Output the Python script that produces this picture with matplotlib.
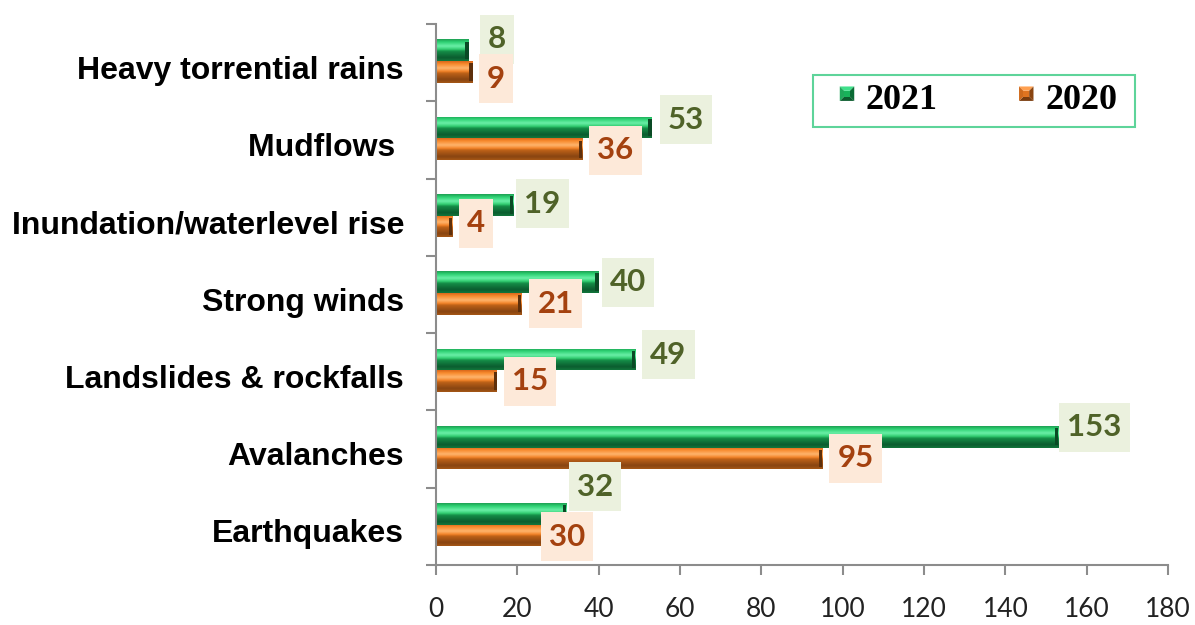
import numpy as np
import matplotlib
matplotlib.use("Agg")
import matplotlib.pyplot as plt
import matplotlib.transforms as mtransforms
from matplotlib.colors import LinearSegmentedColormap
from matplotlib.patches import Polygon, Patch, Rectangle
from matplotlib.path import Path
from matplotlib.legend_handler import HandlerBase

# ---------------- data ----------------
categories = ["Heavy torrential rains", "Mudflows ", "Inundation/waterlevel rise",
              "Strong winds", "Landslides & rockfalls", "Avalanches", "Earthquakes"]
values_2021 = [8, 53, 19, 40, 49, 153, 32]
values_2020 = [9, 36, 4, 21, 15, 95, 30]
series_names = ["2021", "2020"]
x_ticks = [0, 20, 40, 60, 80, 100, 120, 140, 160, 180]

# label nudges (pixels: dx from bar end to box edge, dy downward) - layout only
nudge_2021 = [(11.5, -11), (8, -8), (3, -1), (3, 0), (7, -4.5), (1, -9.5), (3, -27)]
nudge_2020 = [(6.5, 7), (7, 1), (7, -3), (8, 0), (7, 0), (7, 0), (-17, 1)]

# ---------------- style ----------------
GREEN_STOPS = [(0.0, '#1E9E52'), (0.12, '#2BD071'), (0.32, '#6CF0A8'), (0.47, '#2FCB6E'),
               (0.55, '#158E48'), (0.85, '#0B5C2F'), (1.0, '#12763C')]
ORANGE_STOPS = [(0.0, '#D9661A'), (0.12, '#F88A2C'), (0.32, '#FFB56E'), (0.47, '#F28226'),
                (0.55, '#BD6118'), (0.85, '#874411'), (1.0, '#A65716')]
green_cmap = LinearSegmentedColormap.from_list("g", GREEN_STOPS)
orange_cmap = LinearSegmentedColormap.from_list("o", ORANGE_STOPS)

GREEN_TXT, GREEN_BG = '#4F6228', '#EBF1DE'
ORANGE_TXT, ORANGE_BG = '#A4410F', '#FDE9D9'
AXIS_GRAY = '#8C8C8C'

fig = plt.figure(figsize=(11.95, 6.25), dpi=100)
ax = fig.add_axes([436 / 1195, 1 - 565 / 625, (1168 - 436) / 1195, (565 - 24) / 625])

y = np.arange(len(categories))
h = 0.28
off_2021, off_2020 = -0.16, 0.12

grad = np.linspace(0, 1, 64).reshape(-1, 1)


def shaded_bars(vals, offs, cmap, end_color):
    bars = ax.barh(y + offs, vals, height=h, color='none', edgecolor='none', zorder=2)
    for b in bars:
        x0, y0 = b.get_x(), b.get_y()
        w, hh = b.get_width(), b.get_height()
        im = ax.imshow(grad, cmap=cmap, aspect='auto', interpolation='bicubic',
                       extent=[x0, x0 + w, y0 + hh, y0], zorder=2)
        im.set_clip_path(b)
    # dark bevel at bar end
    ax.barh(y + offs, [0.8] * len(vals), left=[v - 0.8 for v in vals], height=h * 0.8,
            color=end_color, zorder=3)
    return bars


shaded_bars(values_2021, off_2021, green_cmap, '#0A4A25')
shaded_bars(values_2020, off_2020, orange_cmap, '#5E2F0B')


# ---------------- labels ----------------
def label_box(padx, pady):
    def box(x0, y0, width, height, mutation_size):
        x0 -= padx
        y0 -= pady
        w = width + 2 * padx
        hh = height + 2 * pady
        return Path([(x0, y0), (x0 + w, y0), (x0 + w, y0 + hh), (x0, y0 + hh), (x0, y0)],
                    closed=True)
    return box


LABEL_FS = 22.5
PADX_PX, PADY_PX = 8.0, 10.5
for vals, offs, nudges, tc, bg in [(values_2021, off_2021, nudge_2021, GREEN_TXT, GREEN_BG),
                                   (values_2020, off_2020, nudge_2020, ORANGE_TXT, ORANGE_BG)]:
    for i, v in enumerate(vals):
        dx, dy = nudges[i]
        ax.annotate(str(v), xy=(v, y[i] + offs), xycoords='data',
                    xytext=((dx + PADX_PX) * 0.72, -dy * 0.72), textcoords='offset points',
                    ha='left', va='center', fontsize=LABEL_FS, fontweight='bold',
                    family='Lato', color=tc, zorder=5,
                    bbox=dict(boxstyle=label_box(PADX_PX, PADY_PX), fc=bg, ec='none'))

# ---------------- axes ----------------
ax.set_xlim(0, 180)
ax.set_ylim(len(categories) - 0.5, -0.5)
ax.set_xticks(x_ticks)
ax.set_xticklabels([str(t) for t in x_ticks], family='Lato', fontsize=19, color='#222222')
ax.set_yticks(y)
ax.set_yticklabels(categories, family='Liberation Sans', fontsize=23, fontweight='bold')
ax.set_yticks(np.arange(-0.5, len(categories), 1.0), minor=True)
ax.tick_params(axis='y', which='major', length=0, pad=23)
ax.tick_params(axis='y', which='minor', length=7, width=1.5, color=AXIS_GRAY)
ax.tick_params(axis='x', which='major', length=7, width=1.5, color=AXIS_GRAY, pad=16)
for s in ['top', 'right']:
    ax.spines[s].set_visible(False)
for s in ['left', 'bottom']:
    ax.spines[s].set_color(AXIS_GRAY)
    ax.spines[s].set_linewidth(1.5)

shift_down = mtransforms.ScaledTranslation(0, -0.045, fig.dpi_scale_trans)
for lab in ax.get_yticklabels():
    lab.set_transform(lab.get_transform() + shift_down)


# ---------------- legend ----------------
class PyramidHandler(HandlerBase):
    def __init__(self, cols):
        super().__init__()
        self.cols = cols  # top, right, bottom, left, center

    def create_artists(self, legend, orig_handle, xdescent, ydescent, width, height,
                       fontsize, trans):
        s = min(width, height)
        x0 = -xdescent
        y0 = -ydescent + (height - s) / 2 + 0.08 * fontsize
        i = 0.3 * s
        o = [(x0, y0), (x0 + s, y0), (x0 + s, y0 + s), (x0, y0 + s)]
        n = [(x0 + i, y0 + i), (x0 + s - i, y0 + i), (x0 + s - i, y0 + s - i), (x0 + i, y0 + s - i)]
        top = [o[3], o[2], n[2], n[3]]
        right = [o[2], o[1], n[1], n[2]]
        bottom = [o[1], o[0], n[0], n[1]]
        left = [o[0], o[3], n[3], n[0]]
        arts = []
        for pts, c in zip([top, right, bottom, left, n], self.cols):
            p = Polygon(pts, closed=True, fc=c, ec='none', transform=trans)
            arts.append(p)
        return arts


# legend frame
ax.add_patch(Rectangle((0.515, 0.8096), 0.955 - 0.515, 0.9057 - 0.8096, transform=ax.transAxes,
                       fc='white', ec='#5ED49A', lw=1.5, zorder=6, clip_on=False))

h1 = Patch(label=series_names[0])
h2 = Patch(label=series_names[1])
leg = ax.legend(handles=[h1, h2], ncol=2, loc='center', bbox_to_anchor=(0.741, 0.8577),
                prop=dict(family='Liberation Serif', weight='bold', size=26),
                handlelength=0.4, handleheight=0.4, handletextpad=0.32,
                columnspacing=2.25, borderpad=0.1, frameon=False,
                handler_map={h1: PyramidHandler(['#3FE08A', '#0A6B35', '#0C5C2E', '#1FA85A', '#18B25A']),
                             h2: PyramidHandler(['#FFA050', '#8A4510', '#7A3C0E', '#D06A1C', '#E07420'])})
leg.set_zorder(7)

fig.savefig('out.png', dpi=100)
